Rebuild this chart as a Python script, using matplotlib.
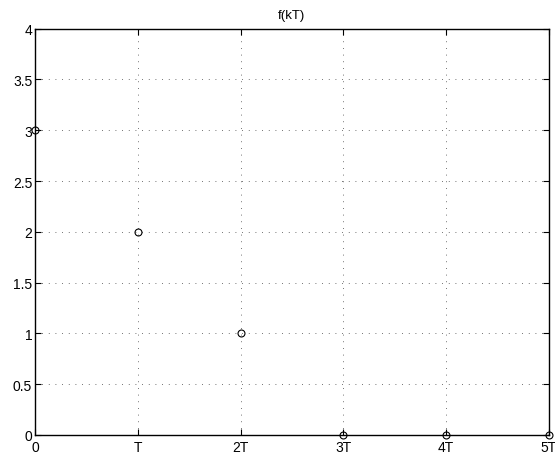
import numpy as np
from matplotlib import pyplot as plt

plt.rcParams['font.family'] = ['Liberation Sans', 'DejaVu Sans']

k = [0, 1, 2, 3, 4, 5]
f_kT = [3, 2, 1, 0, 0, 0]
x_labels = ['0', 'T', '2T', '3T', '4T', '5T']
y_ticks = [0, 0.5, 1, 1.5, 2, 2.5, 3, 3.5, 4]
y_labels = ['0', '0.5', '1', '1.5', '2', '2.5', '3', '3.5', '4']

fig = plt.figure(figsize=(5.55, 4.56), dpi=100)
ax = fig.add_axes([0.063, 0.044, 0.926, 0.891])

ax.plot(k, f_kT, 'o', markerfacecolor='none', markeredgecolor='black',
        markersize=5, markeredgewidth=0.8, clip_on=False, zorder=5)

ax.set_xlim(0, 5)
ax.set_ylim(0, 4)
ax.set_xticks(k)
ax.set_xticklabels(x_labels)
ax.set_yticks(y_ticks)
ax.set_yticklabels(y_labels)
ax.tick_params(direction='in', length=4, width=0.8, labelsize=10,
               top=True, right=True)
ax.tick_params(axis='x', pad=4)
ax.tick_params(axis='y', pad=2)
ax.grid(True, linestyle=(0, (1, 7)), color='#444444', linewidth=0.6)
for s in ax.spines.values():
    s.set_linewidth(1.0)
ax.set_title('f(kT)', fontsize=9.5, pad=8)

fig.savefig('out.png', dpi=100)
